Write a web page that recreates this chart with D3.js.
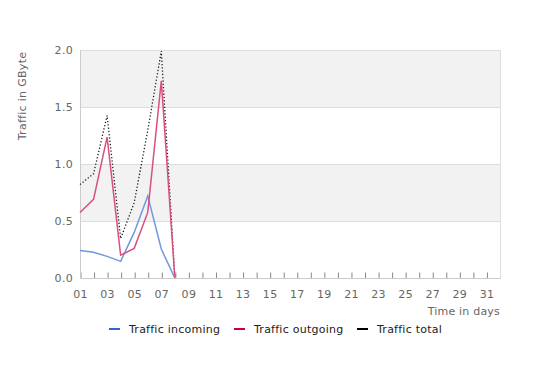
<!DOCTYPE html>
<html>
<head>
<meta charset="utf-8">
<script src="https://cdn.jsdelivr.net/npm/d3@7"></script>
<style>
  body { margin: 0; background: #fff; }
  text { font-family: "DejaVu Sans", sans-serif; }
</style>
</head>
<body>
<div class="container"></div>
<script>
const days = d3.range(1, 9);
const incoming = [0.242, 0.225, 0.19, 0.146, 0.40, 0.72, 0.254, 0.0];
const outgoing = [0.575, 0.69, 1.235, 0.20, 0.26, 0.575, 1.73, 0.0];
const total = [0.82, 0.915, 1.425, 0.346, 0.66, 1.295, 1.99, 0.0];
const xTicks = d3.range(1, 32);
const yTicks = [0, 0.5, 1.0, 1.5, 2.0];
const seriesNames = ['Traffic incoming', 'Traffic outgoing', 'Traffic total'];

const w = 550;
const h = 370;
const plot = { left: 80, right: 500, top: 50, bottom: 278 };

const svg = d3.select('.container')
    .append('svg')
    .attr('width', w)
    .attr('height', h);

const xScale = d3.scaleLinear().domain([1, 32]).range([plot.left, plot.right]);
const yScale = d3.scaleLinear().domain([0, 2]).range([plot.bottom, plot.top]);

// alternating bands
[[0.5, 1.0], [1.5, 2.0]].forEach(b => {
    svg.append('rect')
        .attr('x', plot.left)
        .attr('y', yScale(b[1]))
        .attr('width', plot.right - plot.left)
        .attr('height', yScale(b[0]) - yScale(b[1]))
        .attr('fill', '#f2f2f2');
});

// grid lines
svg.append('g')
    .selectAll('line')
    .data(yTicks.slice(1))
    .join('line')
    .attr('x1', plot.left)
    .attr('x2', plot.right)
    .attr('y1', d => Math.round(yScale(d)) + 0.5)
    .attr('y2', d => Math.round(yScale(d)) + 0.5)
    .attr('stroke', '#dddddd');

// right border
svg.append('line')
    .attr('x1', plot.right + 0.5).attr('x2', plot.right + 0.5)
    .attr('y1', plot.top).attr('y2', plot.bottom)
    .attr('stroke', '#dddddd');

// x axis
const xAxis = d3.axisTop(xScale)
    .tickValues(xTicks)
    .tickSize(6)
    .tickFormat('');
const gx = svg.append('g')
    .attr('transform', `translate(0.5, ${plot.bottom + 0.5})`)
    .call(xAxis);
gx.select('.domain').remove();
gx.selectAll('line').attr('stroke', '#888');

svg.append('line')
    .attr('x1', plot.left).attr('x2', plot.right + 1)
    .attr('y1', plot.bottom + 0.5).attr('y2', plot.bottom + 0.5)
    .attr('stroke', '#cccccc');

svg.append('g')
    .selectAll('text')
    .data(xTicks.filter(d => d % 2 === 1))
    .join('text')
    .attr('x', d => xScale(d) + 0.5)
    .attr('y', 298)
    .attr('text-anchor', 'middle')
    .attr('fill', '#666')
    .style('font-size', '11px')
    .style('letter-spacing', '0.3px')
    .text(d => d3.format('02d')(d));

// y axis
svg.append('line')
    .attr('x1', plot.left + 0.5).attr('x2', plot.left + 0.5)
    .attr('y1', plot.top).attr('y2', plot.bottom)
    .attr('stroke', '#cccccc');

svg.append('g')
    .selectAll('text')
    .data(yTicks)
    .join('text')
    .attr('x', 73)
    .attr('y', d => yScale(d) + 4)
    .attr('text-anchor', 'end')
    .attr('fill', '#666')
    .style('font-size', '11px')
    .style('letter-spacing', '0.3px')
    .text(d => d3.format('.1f')(d));

svg.append('text')
    .attr('transform', 'translate(26, 96) rotate(-90)')
    .attr('text-anchor', 'middle')
    .attr('fill', '#666')
    .style('font-size', '11px')
    .style('letter-spacing', '0.3px')
    .text('Traffic in GByte');

svg.append('text')
    .attr('x', plot.right)
    .attr('y', 315)
    .attr('text-anchor', 'end')
    .attr('fill', '#666')
    .style('font-size', '11px')
    .style('letter-spacing', '0.2px')
    .text('Time in days');

// lines
const line = d3.line()
    .x((d, i) => xScale(days[i]))
    .y(d => yScale(d));

svg.append('path')
    .datum(total)
    .attr('d', line)
    .attr('fill', 'none')
    .attr('stroke', '#222')
    .attr('stroke-width', 1.3)
    .attr('stroke-dasharray', '1.3,2');

svg.append('path')
    .datum(incoming)
    .attr('d', line)
    .attr('fill', 'none')
    .attr('stroke', '#6f98de')
    .attr('stroke-width', 1.5);

svg.append('path')
    .datum(outgoing)
    .attr('d', line)
    .attr('fill', 'none')
    .attr('stroke', '#d9507e')
    .attr('stroke-width', 1.5);

// legend
const legendColors = ['#3366cc', '#cc0033', '#000000'];
const legendX = [109, 234, 357];
const legend = svg.append('g');
seriesNames.forEach((name, i) => {
    legend.append('rect')
        .attr('x', legendX[i])
        .attr('y', 328)
        .attr('width', 11)
        .attr('height', 2)
        .attr('fill', legendColors[i]);
    legend.append('text')
        .attr('x', legendX[i] + 20)
        .attr('y', 333)
        .attr('fill', '#222')
        .style('font-size', '11px')
        .style('letter-spacing', '0.25px')
        .text(name);
});
</script>
</body>
</html>
